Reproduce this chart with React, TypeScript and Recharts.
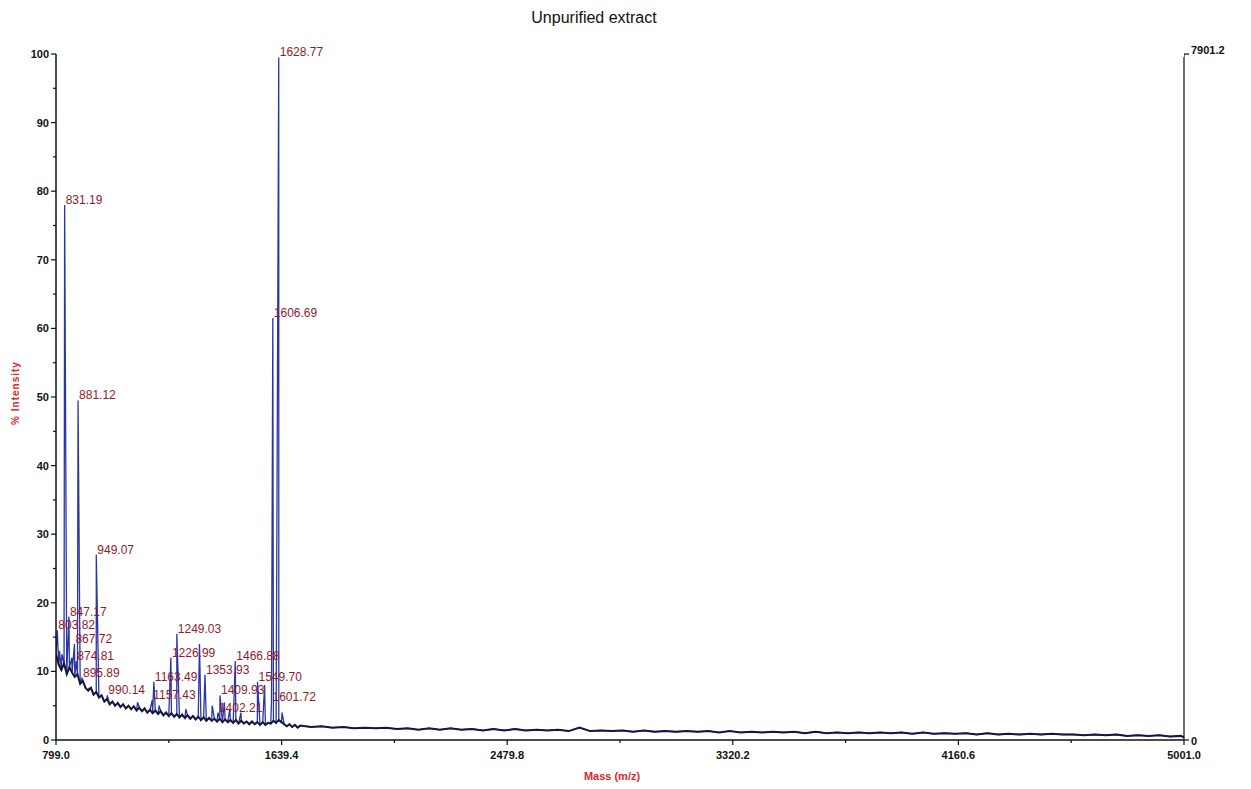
import { ComposedChart, Line, Scatter, XAxis, YAxis } from "recharts";

const LOW_START = 799;
const LOW_STEP = 10;
const lowBaseline = [
  12.5, 11.0, 10.2, 11.2, 9.6, 10.6, 9.8, 9.2, 9.6, 8.2,
  8.6, 7.6, 7.2, 7.6, 6.6, 7.0, 6.2, 6.5, 5.6, 6.0,
  5.2, 5.6, 5.0, 5.4, 4.8, 5.2, 4.6, 5.0, 4.5, 4.9,
  4.3, 4.7, 4.2, 4.6, 4.0, 4.4, 3.9, 4.3, 3.8, 4.2,
  3.6, 4.0, 3.5, 3.9, 3.4, 3.8, 3.3, 3.7, 3.2, 3.6,
  3.1, 3.5, 3.0, 3.4, 2.9, 3.3, 2.8, 3.2, 2.8, 3.1,
  2.7, 3.1, 2.6, 3.0, 2.6, 2.9, 2.5, 2.9, 2.4, 2.8,
  2.4, 2.7, 2.3, 2.7, 2.3, 2.6, 2.2, 2.6, 2.2, 2.5,
  2.4, 2.8, 2.5, 2.9, 2.6, 2.3, 2.0, 2.3, 1.9, 2.2,
  1.8,
];

const HIGH_START = 1709;
const HIGH_STEP = 40;
const highBaseline = [
  2.1, 1.9, 2.0, 1.8, 1.9, 1.7, 1.8, 1.7, 1.8, 1.6,
  1.7, 1.5, 1.7, 1.5, 1.7, 1.5, 1.6, 1.4, 1.6, 1.4,
  1.6, 1.4, 1.5, 1.4, 1.5, 1.3, 1.8, 1.3, 1.4, 1.3,
  1.4, 1.2, 1.4, 1.2, 1.3, 1.2, 1.3, 1.2, 1.3, 1.1,
  1.3, 1.1, 1.2, 1.1, 1.2, 1.1, 1.2, 1.0, 1.2, 1.0,
  1.1, 1.0, 1.1, 1.0, 1.1, 1.0, 1.1, 0.9, 1.1, 0.9,
  1.0, 0.9, 1.0, 0.8, 1.0, 0.8, 0.9, 0.8, 0.9, 0.8,
  0.9, 0.8, 0.8, 0.7, 0.8, 0.7, 0.8, 0.6, 0.7, 0.6,
  0.7, 0.5, 0.6,
];
const tailMz = [5001];
const tailInt = [0.4];

// annotated peaks
const labelledMz = [
  803.82, 831.19, 847.17, 867.72, 874.81, 881.12, 895.89, 949.07, 990.14,
  1157.43, 1163.49, 1226.99, 1249.03, 1353.93, 1402.21, 1409.93, 1466.88,
  1549.7, 1601.72, 1606.69, 1628.77,
];
const labelledInt = [
  16, 78, 18, 14, 11.5, 49.5, 9, 27, 6.5,
  5.8, 8.5, 12, 15.5, 9.5, 4, 6.5, 11.5,
  8.5, 5.5, 61.5, 99.5,
];
const labelledText = [
  "803.82", "831.19", "847.17", "867.72", "874.81", "881.12", "895.89", "949.07", "990.14",
  "1157.43", "1163.49", "1226.99", "1249.03", "1353.93", "1402.21", "1409.93", "1466.88",
  "1549.70", "1601.72", "1606.69", "1628.77",
];

// unannotated spikes
const minorMz = [812, 821, 858, 906, 921, 1103, 1183, 1283, 1333.5, 1381, 1426, 1446, 1488, 1576, 1641];
const minorInt = [13, 12.5, 12, 8, 7.5, 5.5, 5, 4.5, 14, 5, 5.5, 4.5, 4, 8, 4];

const xTicks = [799, 1219.2, 1639.4, 2059.6, 2479.8, 2900, 3320.2, 3740.4, 4160.6, 4580.8, 5001];
const xTickLabels = ["799.0", "", "1639.4", "", "2479.8", "", "3320.2", "", "4160.6", "", "5001.0"];
const yTicks = [0, 5, 10, 15, 20, 25, 30, 35, 40, 45, 50, 55, 60, 65, 70, 75, 80, 85, 90, 95, 100];
const rightTicks = [0, 100];
const rightTickLabels = ["0", "7901.2"];

const FONT = "'Liberation Sans', Arial, sans-serif";

const baseline = [
  ...lowBaseline.map((v, i) => ({ mz: LOW_START + i * LOW_STEP, v })),
  ...highBaseline.map((v, i) => ({ mz: HIGH_START + i * HIGH_STEP, v })),
  ...tailMz.map((mz, i) => ({ mz, v: tailInt[i] })),
];

const spectrum = [
  ...baseline,
  ...labelledMz.map((mz, i) => ({ mz, v: labelledInt[i] })),
  ...minorMz.map((mz, i) => ({ mz, v: minorInt[i] })),
].sort((a, b) => a.mz - b.mz);

const peakLabels = labelledMz.map((mz, i) => ({ mz, v: labelledInt[i], tag: labelledText[i] }));

const XTick = (props: any) => {
  const { x, y, index } = props;
  const label = xTickLabels[index];
  return (
    <g>
      <line x1={x} x2={x} y1={y} y2={y + (label ? 5 : 3)} stroke="#111" strokeWidth={1.2} />
      {label && (
        <text x={x} y={y + 19} textAnchor="middle" fontFamily={FONT} fontSize={11} fontWeight="bold" fill="#111">
          {label}
        </text>
      )}
    </g>
  );
};

const YTick = (props: any) => {
  const { x, y, payload } = props;
  const major = payload.value % 10 === 0;
  return (
    <g>
      <line x1={x - (major ? 5 : 3)} x2={x} y1={y} y2={y} stroke="#111" strokeWidth={1.2} />
      {major && (
        <text x={x - 7} y={y + 4} textAnchor="end" fontFamily={FONT} fontSize={11} fontWeight="bold" fill="#111">
          {payload.value}
        </text>
      )}
    </g>
  );
};

const RightTick = (props: any) => {
  const { x, y, payload } = props;
  const idx = rightTicks.indexOf(payload.value);
  return (
    <g>
      <line x1={x} x2={x + 5} y1={y} y2={y} stroke="#111" strokeWidth={1.2} />
      <text x={x + 7} y={y + (idx === 0 ? 5 : 0)} fontFamily={FONT} fontSize={11} fontWeight="bold" fill="#111">
        {rightTickLabels[idx]}
      </text>
    </g>
  );
};

const PeakLabel = (props: any) => {
  const { cx, cy, payload } = props;
  return (
    <text x={cx + 1} y={cy - 1} fontFamily={FONT} fontSize={12} fill="#8e1b2c">
      {payload.tag}
    </text>
  );
};

export default function App() {
  return (
    <div style={{ position: "absolute", left: 0, top: 0, width: 1251, height: 789, background: "#fff" }}>
      <div
        style={{
          position: "absolute", left: 0, top: 9, width: 1188, textAlign: "center",
          fontFamily: FONT, fontSize: 16, color: "#111",
        }}
      >
        Unpurified extract
      </div>
      <div
        style={{
          position: "absolute", left: 15, top: 393, transform: "translate(-50%, -50%) rotate(-90deg)",
          fontFamily: FONT, fontSize: 10, fontWeight: "bold", color: "#e3242b", letterSpacing: 1, whiteSpace: "nowrap",
        }}
      >
        % Intensity
      </div>
      <div
        style={{
          position: "absolute", left: 612, top: 776, transform: "translate(-50%, -50%)",
          fontFamily: FONT, fontSize: 11, fontWeight: "bold", color: "#e3242b", whiteSpace: "nowrap",
        }}
      >
        Mass (m/z)
      </div>
      <ComposedChart width={1251} height={789} margin={{ top: 54, right: 7, bottom: 9, left: 16 }}>
        <XAxis
          dataKey="mz"
          type="number"
          domain={[799, 5001]}
          ticks={xTicks}
          interval={0}
          allowDataOverflow
          height={40}
          tickSize={0}
          tickMargin={0}
          tickLine={false}
          tick={<XTick />}
          axisLine={{ stroke: "#111", strokeWidth: 1.5 }}
        />
        <YAxis
          yAxisId="left"
          type="number"
          domain={[0, 100]}
          ticks={yTicks}
          interval={0}
          width={40}
          tickSize={0}
          tickMargin={0}
          tickLine={false}
          tick={<YTick />}
          axisLine={{ stroke: "#111", strokeWidth: 1.5 }}
        />
        <YAxis
          yAxisId="right"
          orientation="right"
          type="number"
          domain={[0, 100]}
          allowDataOverflow
          ticks={rightTicks}
          interval={0}
          width={60}
          tickSize={0}
          tickMargin={0}
          tickLine={false}
          tick={<RightTick />}
          axisLine={{ stroke: "#111", strokeWidth: 1.2 }}
        />
        <Line
          yAxisId="left"
          data={spectrum}
          dataKey="v"
          type="linear"
          stroke="#2b36a6"
          strokeWidth={1.3}
          dot={false}
          isAnimationActive={false}
        />
        <Line
          yAxisId="left"
          data={baseline}
          dataKey="v"
          type="linear"
          stroke="#14173f"
          strokeWidth={2}
          dot={false}
          isAnimationActive={false}
        />
        <Line
          yAxisId="right"
          data={tailMz.map((mz) => ({ mz, v: 100 }))}
          dataKey="v"
          stroke="none"
          dot={false}
          isAnimationActive={false}
        />
        <Scatter
          yAxisId="left"
          data={peakLabels}
          dataKey="v"
          shape={PeakLabel}
          isAnimationActive={false}
        />
      </ComposedChart>
    </div>
  );
}
